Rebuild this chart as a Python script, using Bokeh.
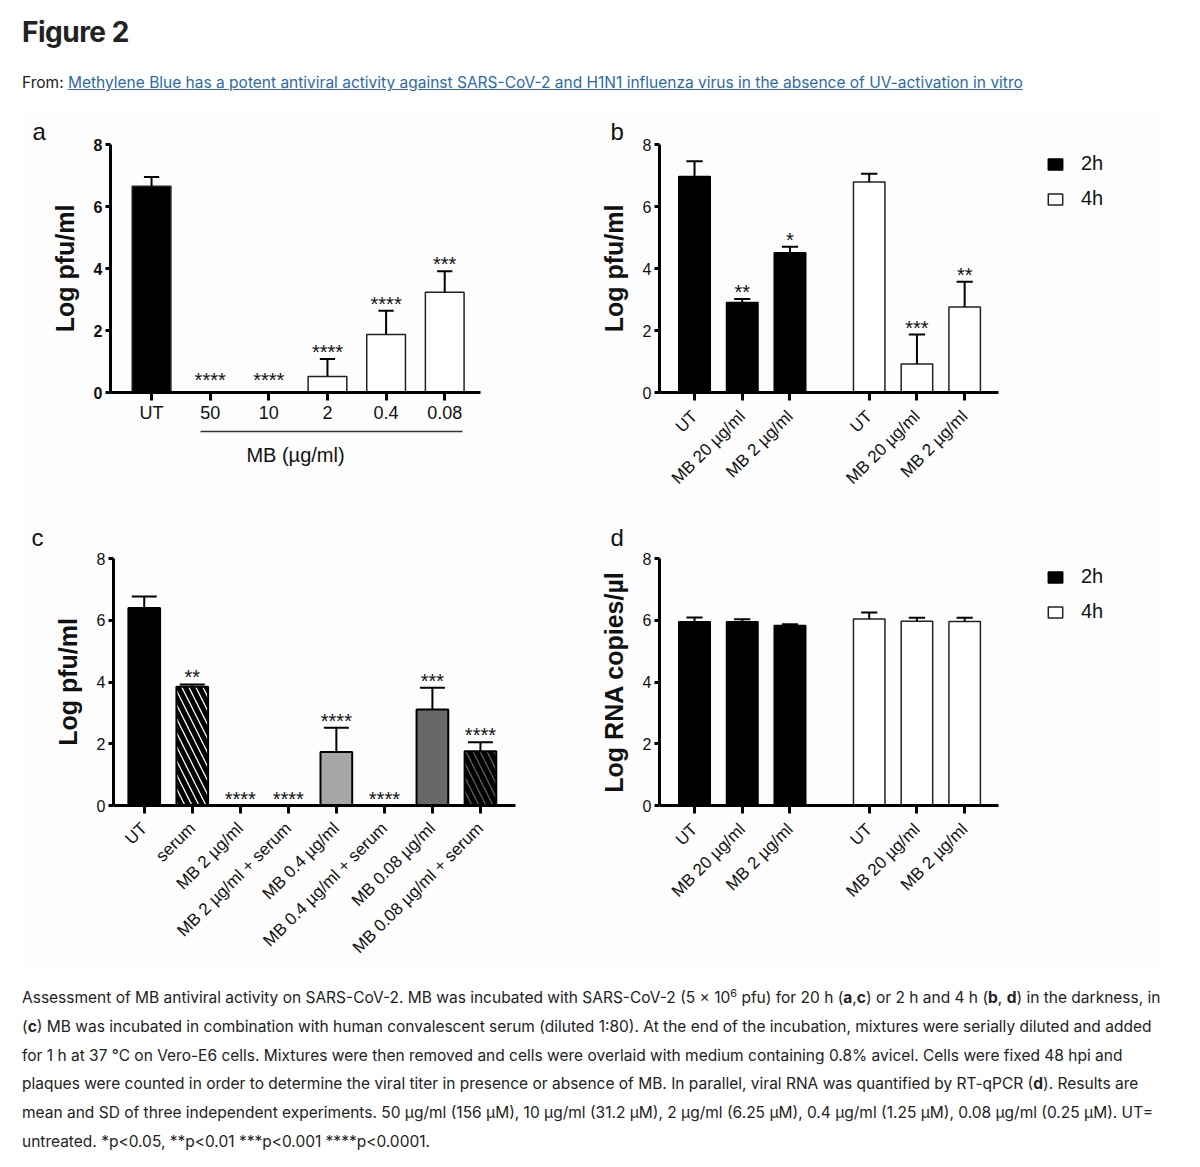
import math
from bokeh.plotting import figure
from bokeh.models import (Range1d, FixedTicker, LinearAxis, Legend, LegendItem,
                          Div, Spacer)
from bokeh.layouts import column, row
from bokeh.embed import file_html
from bokeh.resources import INLINE
from bokeh.core.properties import value

# ---------------- data ----------------
a_labels = ["UT", "50", "10", "2", "0.4", "0.08"]
a_mean = [6.65, 0.0, 0.0, 0.52, 1.87, 3.23]
a_sd = [0.30, 0.0, 0.0, 0.56, 0.77, 0.68]
a_stars = ["", "****", "****", "****", "****", "***"]
a_group_label = "MB (µg/ml)"

bd_labels = ["UT", "MB 20 µg/ml", "MB 2 µg/ml"]
b_2h_mean = [6.97, 2.90, 4.51]
b_2h_sd = [0.49, 0.12, 0.19]
b_2h_stars = ["", "**", "*"]
b_4h_mean = [6.79, 0.92, 2.76]
b_4h_sd = [0.27, 0.95, 0.81]
b_4h_stars = ["", "***", "**"]

c_labels = ["UT", "serum", "MB 2 µg/ml", "MB 2 µg/ml + serum", "MB 0.4 µg/ml",
            "MB 0.4 µg/ml + serum", "MB 0.08 µg/ml", "MB 0.08 µg/ml + serum"]
c_mean = [6.40, 3.85, 0.0, 0.0, 1.73, 0.0, 3.11, 1.76]
c_sd = [0.37, 0.07, 0.0, 0.0, 0.79, 0.0, 0.70, 0.29]
c_stars = ["", "**", "****", "****", "****", "****", "***", "****"]

d_2h_mean = [5.95, 5.95, 5.83]
d_2h_sd = [0.14, 0.08, 0.04]
d_4h_mean = [6.04, 5.97, 5.96]
d_4h_sd = [0.21, 0.11, 0.12]

y_ticks = [0, 2, 4, 6, 8]
group_labels = ["2h", "4h"]

# ---------------- styles ----------------
FONT = "Liberation Sans"
BG = "#fdfdfd"
c_fill = ["black", "white", "white", "white", "#a6a6a6", "white", "#686868", "#5e5e5e"]
c_hatch = [" ", "\\", " ", " ", " ", " ", " ", "\\"]
GAP = 0.66


def make_panel(width, height, mb, x_range, ylabel, ybold, xticks, xlabels, xfs, orient, xstand,
               xbounds="auto"):
    p = figure(width=width, height=height, x_range=Range1d(*x_range), y_range=Range1d(0, 8),
               output_backend="svg", toolbar_location=None,
               min_border_left=mb[0], min_border_right=mb[1], min_border_top=mb[2],
               min_border_bottom=mb[3], background_fill_color=BG, border_fill_color=BG,
               outline_line_color=None)
    p.grid.visible = False
    yax = p.yaxis[0]
    yax.ticker = FixedTicker(ticks=y_ticks, minor_ticks=[])
    yax.axis_line_width = 3
    yax.axis_line_color = "black"
    yax.major_tick_line_width = 3
    yax.major_tick_line_color = "black"
    yax.major_tick_out = 5
    yax.major_tick_in = 0
    yax.minor_tick_line_color = None
    yax.major_label_text_font = FONT
    yax.major_label_text_font_size = "16px"
    yax.major_label_text_color = "#111"
    yax.major_label_text_font_style = "bold" if ybold else "normal"
    yax.major_label_standoff = 3
    yax.axis_label = ylabel
    yax.axis_label_text_font = FONT
    yax.axis_label_text_font_size = "25px"
    yax.axis_label_text_font_style = "bold"
    yax.axis_label_text_color = "#111"
    yax.axis_label_standoff = 12

    xax = p.xaxis[0]
    xax.ticker = FixedTicker(ticks=xticks, minor_ticks=[])
    xax.major_label_overrides = {t: l for t, l in zip(xticks, xlabels)}
    xax.bounds = xbounds
    xax.axis_line_width = 3
    xax.axis_line_color = "black"
    xax.major_tick_line_width = 3
    xax.major_tick_line_color = "black"
    xax.major_tick_out = 8
    xax.major_tick_in = 0
    xax.minor_tick_line_color = None
    xax.major_label_text_font = FONT
    xax.major_label_text_font_size = xfs
    xax.major_label_text_color = "#111"
    xax.major_label_standoff = xstand
    xax.major_label_orientation = orient
    return p


def add_err(p, xs, means, sds, cap, lw=2):
    x0, y0, y1, cl, cr = [], [], [], [], []
    for x, m, s in zip(xs, means, sds):
        if s > 0:
            x0.append(x); y0.append(m); y1.append(m + s)
            cl.append(x - cap); cr.append(x + cap)
    p.segment(x0=x0, y0=y0, x1=x0, y1=y1, line_color="black", line_width=lw)
    p.segment(x0=cl, y0=y1, x1=cr, y1=y1, line_color="black", line_width=lw)


def add_stars(p, xs, means, sds, stars, zero_lift=0):
    tops = [m + s for m, s in zip(means, sds)]
    offs = [-7 - (zero_lift if t == 0 else 0) for t in tops]
    p.text(x=xs, y=tops, text=stars, text_align="center", text_baseline="middle",
           y_offset=offs, text_font=value(FONT), text_font_size="20px", text_color="#111")


def panel_letter(p, txt, offset, standoff):
    p.title.text = txt
    p.title.text_font = FONT
    p.title.text_font_size = "24px"
    p.title.text_font_style = "normal"
    p.title.text_color = "#111"
    p.title.align = "left"
    p.title.offset = offset
    p.title.standoff = standoff


def add_legend(p, r2, r4, loc):
    lg = Legend(items=[LegendItem(label=group_labels[0], renderers=[r2]),
                       LegendItem(label=group_labels[1], renderers=[r4])],
                location=loc, glyph_width=18, glyph_height=14,
                label_text_font=FONT, label_text_font_size="20px", label_text_color="#111",
                label_standoff=17, spacing=12, padding=0, margin=0,
                border_line_color=None, background_fill_alpha=0)
    p.add_layout(lg)


# ---------------- panel a ----------------
a_x = list(range(len(a_labels)))
pa = make_panel(570, 397, (90, 110, 36, 113), (-0.70, 5.61), "Log pfu/ml", True,
                a_x, a_labels, "18px", "horizontal", 2)
pa.vbar(x=a_x, top=a_mean, width=0.66,
        fill_color=["black"] + ["white"] * (len(a_x) - 1), line_color="#222", line_width=1.5)
add_err(pa, a_x, a_mean, a_sd, 0.13)
add_stars(pa, a_x, a_mean, a_sd, a_stars, zero_lift=6)
panel_letter(pa, "a", -78, 0)
# spacer label on the tick axis, then a bracket line under the MB doses, then the group title
pa.xaxis[0].axis_label = " "
pa.xaxis[0].axis_label_text_font_size = "1px"
pa.xaxis[0].axis_label_standoff = 2
bracket = LinearAxis(ticker=FixedTicker(ticks=[]), bounds=(0.84, 5.30), axis_line_width=1.5,
                     axis_line_color="#333", major_tick_out=0, major_tick_in=0,
                     major_tick_line_color=None, minor_tick_line_color=None,
                     major_label_standoff=0, major_label_text_font_size="1px")
pa.add_layout(bracket, "below")
grp = LinearAxis(ticker=FixedTicker(ticks=[]), axis_line_color=None, major_tick_out=0,
                 major_tick_in=0, major_tick_line_color=None, minor_tick_line_color=None,
                 major_label_standoff=0, major_label_text_font_size="1px",
                 axis_label=a_group_label, axis_label_text_font=FONT,
                 axis_label_text_font_size="20px", axis_label_text_font_style="normal",
                 axis_label_text_color="#111", axis_label_standoff=12)
pa.add_layout(grp, "below")

# ---------------- panel b ----------------
# the frame runs to the right edge so that the legend sits inside it; the x axis is bounded
bx2 = [float(i) for i in range(len(bd_labels))]
bx4 = [round(len(bd_labels) + GAP + i, 2) for i in range(len(bd_labels))]
BD_RANGE = (-0.734, 9.805)
BD_BOUNDS = (-0.734, 6.373)
pb = make_panel(572, 397, (69, 0, 36, 113), BD_RANGE, "Log pfu/ml", False,
                bx2 + bx4, bd_labels + bd_labels, "17px", math.pi / 4, 13, BD_BOUNDS)
rb2 = pb.vbar(x=bx2, top=b_2h_mean, width=0.66, fill_color="black", line_color="black", line_width=1.5)
rb4 = pb.vbar(x=bx4, top=b_4h_mean, width=0.66, fill_color="white", line_color="#222", line_width=1.5)
add_err(pb, bx2, b_2h_mean, b_2h_sd, 0.17)
add_err(pb, bx4, b_4h_mean, b_4h_sd, 0.17)
add_stars(pb, bx2, b_2h_mean, b_2h_sd, b_2h_stars)
add_stars(pb, bx4, b_4h_mean, b_4h_sd, b_4h_stars)
panel_letter(pb, "b", -49, 0)
add_legend(pb, rb2, rb4, (387, 182))

# ---------------- panel c ----------------
c_x = list(range(len(c_labels)))
pc = make_panel(570, 463, (93, 75, 53, 163), (-0.64, 7.73), "Log pfu/ml", False,
                c_x, c_labels, "17px", math.pi / 4, 12)
pc.vbar(x=c_x, top=c_mean, width=0.66, fill_color=c_fill, line_color="black", line_width=2,
        hatch_pattern=c_hatch, hatch_color="black", hatch_weight=5, hatch_scale=14)
add_err(pc, c_x, c_mean, c_sd, 0.26)
add_stars(pc, c_x, c_mean, c_sd, c_stars)
panel_letter(pc, "c", -82, 15)

# ---------------- panel d ----------------
pd_ = make_panel(572, 463, (69, 0, 53, 163), BD_RANGE, "Log RNA copies/µl", False,
                 bx2 + bx4, bd_labels + bd_labels, "17px", math.pi / 4, 13, BD_BOUNDS)
rd2 = pd_.vbar(x=bx2, top=d_2h_mean, width=0.66, fill_color="black", line_color="black", line_width=1.5)
rd4 = pd_.vbar(x=bx4, top=d_4h_mean, width=0.66, fill_color="white", line_color="#222", line_width=1.5)
add_err(pd_, bx2, d_2h_mean, d_2h_sd, 0.17)
add_err(pd_, bx4, d_4h_mean, d_4h_sd, 0.17)
panel_letter(pd_, "d", -49, 15)
add_legend(pd_, rd2, rd4, (387, 182))

# ---------------- texts ----------------
header_html = (
    '<div style="position:relative;width:1192px;height:108px;font-family:Inter,sans-serif;color:#222;">'
    '<div style="position:absolute;left:22px;top:18px;font-size:28px;font-weight:700;'
    'line-height:28px;white-space:nowrap;letter-spacing:-0.5px;">Figure 2</div>'
    '<div style="position:absolute;left:22px;top:75px;font-size:15.5px;line-height:16px;white-space:nowrap;">'
    'From: <a href="#" style="color:#2e6aa6;text-decoration:underline;">Methylene Blue has a potent '
    'antiviral activity against SARS-CoV-2 and H1N1 influenza virus in the absence of UV-activation '
    'in vitro</a></div></div>'
)
caption_lines = [
    'Assessment of MB antiviral activity on SARS-CoV-2. MB was incubated with SARS-CoV-2 (5 × 10'
    '<sup style="font-size:0.7em;line-height:0;">6</sup> pfu) for 20 h (<b>a</b>,<b>c</b>) or 2 h and 4 h '
    '(<b>b</b>, <b>d</b>) in the darkness, in',
    '(<b>c</b>) MB was incubated in combination with human convalescent serum (diluted 1:80). At the end '
    'of the incubation, mixtures were serially diluted and added',
    'for 1 h at 37 °C on Vero-E6 cells. Mixtures were then removed and cells were overlaid with medium '
    'containing 0.8% avicel. Cells were fixed 48 hpi and',
    'plaques were counted in order to determine the viral titer in presence or absence of MB. In parallel, '
    'viral RNA was quantified by RT-qPCR (<b>d</b>). Results are',
    'mean and SD of three independent experiments. 50 µg/ml (156 µM), 10 µg/ml (31.2 µM), 2 µg/ml '
    '(6.25 µM), 0.4 µg/ml (1.25 µM), 0.08 µg/ml (0.25 µM). UT=',
    'untreated. *p&lt;0.05, **p&lt;0.01 ***p&lt;0.001 ****p&lt;0.0001.',
]
caption_html = (
    '<div style="position:relative;width:1192px;height:191px;font-family:Inter,sans-serif;'
    'font-size:15.5px;color:#222;">'
    '<div style="position:absolute;left:22px;top:16px;line-height:28.8px;white-space:nowrap;">'
    + '<br>'.join(caption_lines) + '</div></div>'
)

header = Div(text=header_html, width=1192, height=108, margin=(0, 0, 0, 0))
caption = Div(text=caption_html, width=1192, height=191, margin=(0, 0, 0, 0))

row1 = row(Spacer(width=20, height=397), pa, pb)
row2 = row(Spacer(width=20, height=463), pc, pd_)
layout = column(header, row1, row2, caption)

open("out.html", "w").write(file_html(layout, INLINE))
